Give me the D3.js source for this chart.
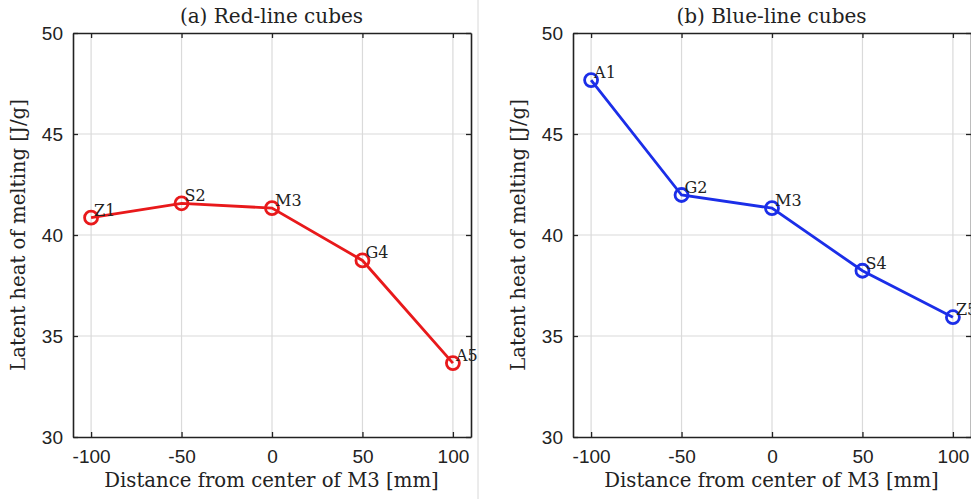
<!DOCTYPE html>
<html>
<head>
<meta charset="utf-8">
<style>
body { margin: 0; background: #fff; }
svg text { fill: #222; }
.serif { font-family: "DejaVu Serif", "Liberation Serif", serif; }
.grid line { stroke: #dadada; stroke-width: 1.2px; }
</style>
<script src="https://d3js.org/d3.v7.min.js"></script>
</head>
<body>
<svg width="971" height="499"></svg>
<script>

var positions = [-100, -50, 0, 50, 100];
var xTicks = [-100, -50, 0, 50, 100];
var yTicks = [30, 35, 40, 45, 50];

var redNames = ["Z1", "S2", "M3", "G4", "A5"];
var redValues = [40.86, 41.57, 41.33, 38.74, 33.66];

var blueNames = ["A1", "G2", "M3", "S4", "Z5"];
var blueValues = [47.67, 41.98, 41.33, 38.23, 35.93];

var panels = [
  { title: "(a) Red-line cubes", names: redNames, values: redValues, color: "#e8191b", left: 73 },
  { title: "(b) Blue-line cubes", names: blueNames, values: blueValues, color: "#1b2ee8", left: 573 }
];

var svg = d3.select("svg");
var plotTop = 33, plotBottom = 437, plotW = 398;

// thin separator between the two panels
svg.append("line")
    .attr("x1", 478).attr("x2", 478)
    .attr("y1", 0).attr("y2", 499)
    .attr("stroke", "#d8d8d8").attr("stroke-width", 1);

panels.forEach(function(p) {
  var x = d3.scaleLinear().domain([-110, 110]).range([p.left, p.left + plotW]);
  var y = d3.scaleLinear().domain([30, 50]).range([plotBottom, plotTop]);
  var g = svg.append("g");

  // grid
  var grid = g.append("g").attr("class", "grid");
  grid.selectAll(".vx").data(xTicks).enter().append("line")
      .attr("x1", function(d) { return x(d); }).attr("x2", function(d) { return x(d); })
      .attr("y1", plotTop).attr("y2", plotBottom);
  grid.selectAll(".hy").data(yTicks.slice(1, -1)).enter().append("line")
      .attr("y1", function(d) { return y(d); }).attr("y2", function(d) { return y(d); })
      .attr("x1", p.left).attr("x2", p.left + plotW);

  var fmt = function(d) { return String(d); };

  // axes with inward ticks (box)
  var axB = g.append("g").attr("transform", "translate(0," + plotBottom + ")")
      .call(d3.axisBottom(x).tickValues(xTicks).tickSizeInner(-5).tickSizeOuter(0).tickPadding(13).tickFormat(fmt));
  var axT = g.append("g").attr("transform", "translate(0," + plotTop + ")")
      .call(d3.axisTop(x).tickValues(xTicks).tickSizeInner(-5).tickSizeOuter(0).tickFormat(""));
  var axL = g.append("g").attr("transform", "translate(" + p.left + ",0)")
      .call(d3.axisLeft(y).tickValues(yTicks).tickSizeInner(-5).tickSizeOuter(0).tickPadding(10).tickFormat(fmt));
  var axR = g.append("g").attr("transform", "translate(" + (p.left + plotW) + ",0)")
      .call(d3.axisRight(y).tickValues(yTicks).tickSizeInner(-5).tickSizeOuter(0).tickFormat(""));

  [axB, axT, axL, axR].forEach(function(a) {
    a.select(".domain").attr("stroke", "#222").attr("stroke-width", 1.6);
    a.selectAll(".tick line").attr("stroke", "#222").attr("stroke-width", 1.3);
    a.selectAll(".tick text").attr("fill", "#222")
        .style("font-family", "'Liberation Sans', Arial, sans-serif").style("font-size", "19px");
  });
  axL.selectAll(".tick text").attr("dy", "0.36em");

  // title and labels
  g.append("text").attr("class", "serif")
      .attr("x", p.left + plotW / 2 - 0.5).attr("y", 23)
      .attr("text-anchor", "middle").style("font-size", "20px")
      .text(p.title);
  g.append("text").attr("class", "serif")
      .attr("x", p.left + plotW / 2 - 0.5).attr("y", 487)
      .attr("text-anchor", "middle").style("font-size", "19.7px")
      .text("Distance from center of M3 [mm]");
  g.append("text").attr("class", "serif")
      .attr("transform", "translate(" + (p.left - 48) + "," + ((plotTop + plotBottom) / 2) + ") rotate(-90)")
      .attr("text-anchor", "middle").style("font-size", "19.7px")
      .text("Latent heat of melting [J/g]");

  // line + markers
  var pts = positions.map(function(d, i) { return { x: d, y: p.values[i], name: p.names[i] }; });
  g.append("path").datum(pts)
      .attr("fill", "none").attr("stroke", p.color).attr("stroke-width", 2.8)
      .attr("d", d3.line().x(function(d) { return x(d.x); }).y(function(d) { return y(d.y); }));
  g.selectAll(".pt").data(pts).enter().append("circle")
      .attr("cx", function(d) { return x(d.x); }).attr("cy", function(d) { return y(d.y); })
      .attr("r", 6.5).attr("fill", "none").attr("stroke", p.color).attr("stroke-width", 2.8);
  g.selectAll(".lbl").data(pts).enter().append("text").attr("class", "serif")
      .attr("x", function(d) { return x(d.x) + 3; }).attr("y", function(d) { return y(d.y) - 2; })
      .style("font-size", "16px")
      .text(function(d) { return d.name; });
});

</script>
</body>
</html>
